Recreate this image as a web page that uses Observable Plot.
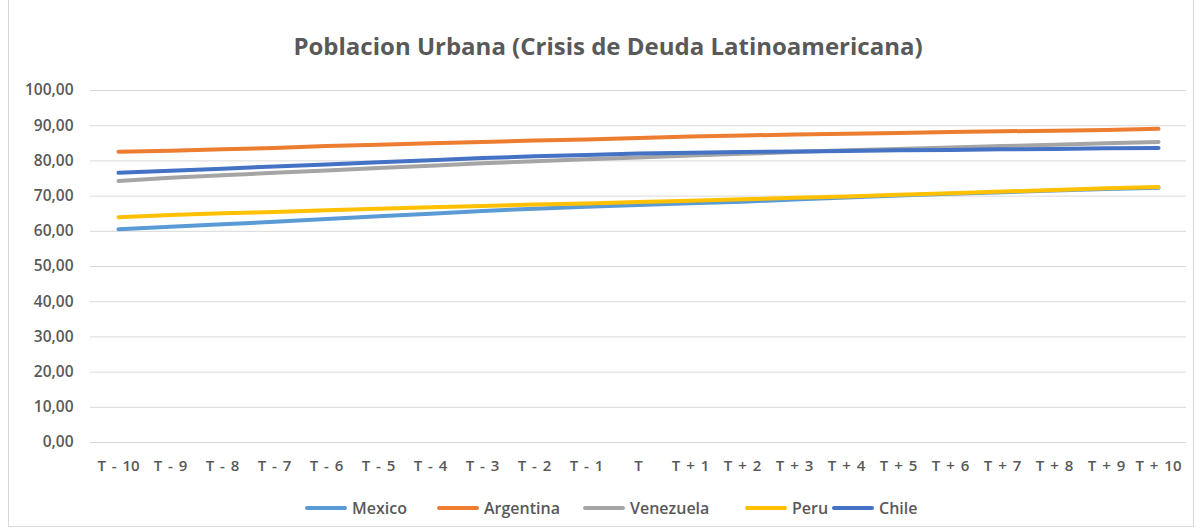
<!DOCTYPE html>
<html><head><meta charset="utf-8">
<script src="https://cdn.jsdelivr.net/npm/d3@7"></script>
<script src="https://cdn.jsdelivr.net/npm/@observablehq/plot@0.6"></script>
<style>
html,body{margin:0;padding:0;background:#fff;}
#frame{position:absolute;left:8px;top:-1px;width:1186px;height:528px;border:1px solid #d9d9d9;box-sizing:border-box;}
#title{position:absolute;left:0;width:1216px;top:29px;text-align:center;font-family:"Open Sans",sans-serif;font-weight:700;font-size:24px;line-height:33px;color:#595959;}
#chart{position:absolute;left:0;top:60px;}
#chart svg text{word-spacing:2px;}
#legend{position:absolute;left:0;top:497px;width:1203px;height:22px;font-family:"Open Sans",sans-serif;font-weight:600;font-size:16px;color:#595959;}
.item{position:absolute;top:0;display:flex;align-items:center;height:22px;}
.sw{width:42px;height:4px;border-radius:2px;margin-right:5px;}
</style></head>
<body>
<div id="frame"></div>
<div id="title">Poblacion Urbana (Crisis de Deuda Latinoamericana)</div>
<div id="chart"></div>
<div id="legend"></div>
<script>
const periods = ["T - 10","T - 9","T - 8","T - 7","T - 6","T - 5","T - 4","T - 3","T - 2","T - 1","T","T + 1","T + 2","T + 3","T + 4","T + 5","T + 6","T + 7","T + 8","T + 9","T + 10"];
const seriesNames = ["Mexico","Argentina","Venezuela","Peru","Chile"];
const seriesColors = ["#5B9BD5","#ED7D31","#A5A5A5","#FFC000","#4472C4"];
const mexico    = [60.6,61.3,62.0,62.7,63.5,64.3,65.0,65.8,66.4,67.0,67.5,68.0,68.4,69.0,69.6,70.2,70.7,71.1,71.6,72.0,72.4];
const argentina = [82.6,82.9,83.3,83.7,84.2,84.6,85.0,85.4,85.8,86.1,86.5,86.9,87.2,87.5,87.7,87.9,88.2,88.4,88.6,88.8,89.1];
const venezuela = [74.3,75.2,75.9,76.6,77.3,78.0,78.6,79.3,79.9,80.5,81.0,81.5,82.0,82.5,83.0,83.4,83.8,84.2,84.6,85.0,85.4];
const peru      = [64.0,64.6,65.1,65.5,66.0,66.4,66.8,67.2,67.6,67.9,68.3,68.7,69.1,69.5,69.9,70.4,70.8,71.3,71.7,72.2,72.6];
const chile     = [76.6,77.2,77.8,78.4,79.0,79.6,80.2,80.8,81.3,81.7,82.1,82.3,82.5,82.7,82.8,83.0,83.1,83.3,83.4,83.6,83.7];
const yTicks = [0,10,20,30,40,50,60,70,80,90,100];

const allValues = [mexico, argentina, venezuela, peru, chile];
const data = [];
seriesNames.forEach((name, i) => {
  periods.forEach((p, j) => data.push({series: name, period: p, value: allValues[i][j]}));
});

const fmt = d => d.toFixed(2).replace(".", ",");

const plot = Plot.plot({
  width: 1203,
  height: 420,
  marginLeft: 90,
  marginRight: 17,
  marginTop: 30,
  marginBottom: 38,
  style: {fontFamily: "'Open Sans', sans-serif", fontSize: "15px", color: "#595959", background: "transparent"},
  x: {type: "point", domain: periods, padding: 0.5, label: null},
  y: {domain: [0, 100], label: null},
  color: {domain: seriesNames, range: seriesColors},
  marks: [
    Plot.gridY(yTicks, {stroke: "#d9d9d9", strokeOpacity: 1, strokeWidth: 1}),
    Plot.axisY(yTicks, {tickSize: 0, tickPadding: 17, tickFormat: fmt, fontWeight: 600, fontSize: 15.5, fill: "#595959"}),
    Plot.axisX(periods, {tickSize: 0, tickPadding: 18, fontWeight: 600, fontSize: 15, fill: "#595959"}),
    Plot.line(data, {x: "period", y: "value", z: "series", stroke: "series", strokeWidth: 4, strokeLinecap: "round", strokeLinejoin: "round"})
  ]
});
document.getElementById("chart").appendChild(plot);

const legendX = [305, 437, 583, 745, 832];
const legend = document.getElementById("legend");
seriesNames.forEach((name, i) => {
  const it = document.createElement("div");
  it.className = "item";
  it.style.left = legendX[i] + "px";
  const sw = document.createElement("div");
  sw.className = "sw";
  sw.style.background = seriesColors[i];
  it.appendChild(sw);
  const t = document.createElement("span");
  t.textContent = name;
  it.appendChild(t);
  legend.appendChild(it);
});
</script>
</body></html>
